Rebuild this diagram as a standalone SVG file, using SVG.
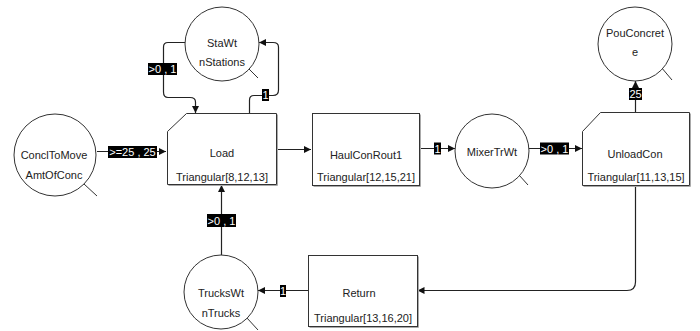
<svg xmlns="http://www.w3.org/2000/svg" width="700" height="331" viewBox="0 0 700 331">
<style>
text{font-family:"Liberation Sans",Arial,sans-serif;font-size:11px;fill:#222;text-anchor:middle}
.nd{fill:#fff;stroke:#333;stroke-width:1}
.sh{fill:none;stroke:#aaa;stroke-width:1}
.tail{stroke:#333;stroke-width:1}
.cn{fill:none;stroke:#222;stroke-width:1.2}
.lb{fill:#000}
.lt{fill:#fff}
</style>
<defs>
<marker id="ar" viewBox="0 0 7 7" refX="7" refY="3.5" markerWidth="7" markerHeight="7" markerUnits="userSpaceOnUse" orient="auto">
<path d="M0,0 L7,3.5 L0,7 z" fill="#111"/>
</marker>
</defs>
<g id="connectors">
<path class="cn" d="M97,151.5 H166" marker-end="url(#ar)"/>
<path class="cn" d="M185,42.5 H168 Q163.5,42.5 163.5,47 V92 Q163.5,97.5 168,97.5 H190 Q195.5,97.5 195.5,102 V113" marker-end="url(#ar)"/>
<path class="cn" d="M249.5,113 V100 Q249.5,95.5 254,95.5 H273 Q278.5,95.5 278.5,90 V47 Q278.5,42.5 273,42.5 H259" marker-end="url(#ar)"/>
<path class="cn" d="M276.5,149.5 H311" marker-end="url(#ar)"/>
<path class="cn" d="M419.5,148.5 H455" marker-end="url(#ar)"/>
<path class="cn" d="M529,148.5 H582" marker-end="url(#ar)"/>
<path class="cn" d="M635.5,112 V81" marker-end="url(#ar)"/>
<path class="cn" d="M635.5,185 V282 Q635.5,290.5 627,290.5 H417.5" marker-end="url(#ar)"/>
<path class="cn" d="M308,290.5 H258" marker-end="url(#ar)"/>
<path class="cn" d="M221.5,255 V185" marker-end="url(#ar)"/>
<rect class="lb" x="108" y="146" width="49" height="12"/><text class="lt" x="132.5" y="156">&gt;=25 , 25</text>
<rect class="lb" x="148" y="63" width="29" height="12"/><text class="lt" x="162.5" y="73">&gt;0 , 1</text>
<rect class="lb" x="262" y="89" width="7" height="12"/><text class="lt" x="265.5" y="99">1</text>
<rect class="lb" x="434" y="142.5" width="7" height="12"/><text class="lt" x="437.5" y="152.5">1</text>
<rect class="lb" x="540" y="142.5" width="29" height="12"/><text class="lt" x="554.5" y="152.5">&gt;0 , 1</text>
<rect class="lb" x="629" y="88" width="13" height="12"/><text class="lt" x="635.5" y="98">25</text>
<rect class="lb" x="280" y="285" width="6" height="12"/><text class="lt" x="283" y="295">1</text>
<rect class="lb" x="207" y="214" width="29" height="13"/><text class="lt" x="221.5" y="224.5">&gt;0 , 1</text>
</g>
<g id="ConclToMove">
<line class="tail" x1="84" y1="184" x2="97" y2="196"/>
<circle class="nd" cx="55" cy="155" r="41"/>
<text x="54" y="159">ConclToMove</text>
<text x="54" y="179">AmtOfConc</text>
</g>
<g id="StaWt">
<line class="tail" x1="248" y1="68" x2="258" y2="78"/>
<circle class="nd" cx="222" cy="44" r="37"/>
<text x="222" y="47">StaWt</text>
<text x="222" y="66">nStations</text>
</g>
<g id="Load">
<polyline class="sh" points="277.5,114.5 277.5,185.5 168.5,185.5"/>
<polygon class="nd" points="167.5,131.5 186.5,113.5 276.5,113.5 276.5,184.5 167.5,184.5"/>
<text x="222" y="157">Load</text>
<text x="222" y="181">Triangular[8,12,13]</text>
</g>
<g id="HaulConRout1">
<polyline class="sh" points="420.5,114.5 420.5,186.5 313.5,186.5"/>
<rect class="nd" x="312.5" y="113.5" width="107" height="72"/>
<text x="366" y="159">HaulConRout1</text>
<text x="366" y="181">Triangular[12,15,21]</text>
</g>
<g id="MixerTrWt">
<line class="tail" x1="519" y1="175" x2="528" y2="185"/>
<circle class="nd" cx="492" cy="151" r="37"/>
<text x="492" y="156">MixerTrWt</text>
</g>
<g id="UnloadCon">
<polyline class="sh" points="690.5,113.5 690.5,186.5 583.5,186.5"/>
<polygon class="nd" points="582.5,131.5 600.5,112.5 689.5,112.5 689.5,185.5 582.5,185.5"/>
<text x="635" y="158">UnloadCon</text>
<text x="636" y="181">Triangular[11,13,15]</text>
</g>
<g id="PouConcrete">
<line class="tail" x1="661" y1="67" x2="672" y2="80"/>
<circle class="nd" cx="635" cy="44" r="37"/>
<text x="635" y="37">PouConcret</text>
<text x="635" y="56">e</text>
</g>
<g id="Return">
<polyline class="sh" points="418.5,256.5 418.5,327.5 309.5,327.5"/>
<rect class="nd" x="308.5" y="255.5" width="109" height="71"/>
<text x="359" y="297">Return</text>
<text x="363" y="322">Triangular[13,16,20]</text>
</g>
<g id="TrucksWt">
<line class="tail" x1="247" y1="318" x2="258" y2="330"/>
<circle class="nd" cx="221" cy="292" r="37"/>
<text x="221" y="297">TrucksWt</text>
<text x="221" y="317">nTrucks</text>
</g>
</svg>
